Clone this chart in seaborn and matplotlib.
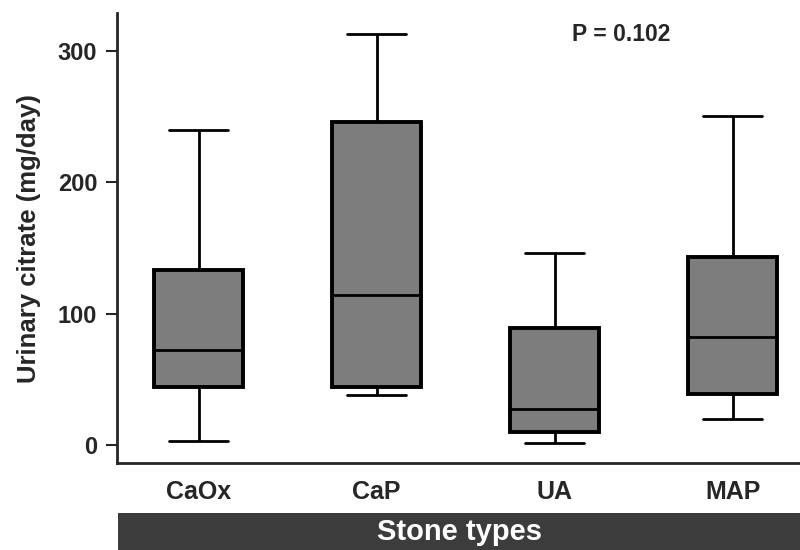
import matplotlib.pyplot as plt
import pandas as pd
import seaborn as sns
from matplotlib.patches import Rectangle

# five-number summaries (mg/day)
stones = ["CaOx", "CaP", "UA", "MAP"]
whisker_low = [3, 38, 1, 20]
q1 = [44, 44, 10, 39]
median = [72, 114, 27, 82]
q3 = [133, 246, 89, 143]
whisker_high = [240, 313, 146, 251]

rows = []
for i, s in enumerate(stones):
    for v in (whisker_low[i], q1[i], median[i], q3[i], whisker_high[i]):
        rows.append({"stone": s, "citrate": v})
df = pd.DataFrame(rows)

sns.set_style("ticks")
plt.rcParams["font.family"] = ["Liberation Sans", "DejaVu Sans"]
plt.rcParams["font.weight"] = "bold"

fig = plt.figure(figsize=(8, 5.5), dpi=100)
ax = fig.add_axes([0.146, 0.158, 0.87, 0.818])

sns.boxplot(
    data=df, x="stone", y="citrate", order=stones,
    whis=(0, 100), width=0.5, color="#7d7d7d", saturation=1,
    linecolor="black", linewidth=2,
    boxprops={"linewidth": 2.8},
    capprops={"linewidth": 2},
    whiskerprops={"linewidth": 2},
    medianprops={"linewidth": 2, "color": "black"},
    showfliers=False, ax=ax,
)
# narrower caps
for line in ax.lines:
    xd = line.get_xdata()
    if len(xd) == 2 and xd[0] != xd[1]:
        yd = line.get_ydata()
        if yd[0] == yd[1]:
            c = (xd[0] + xd[1]) / 2
            half = abs(xd[1] - xd[0]) / 2
            if half < 0.2:
                line.set_xdata([c - 0.165, c + 0.165])

ax.set_xlim(-0.46, 3.45)
ax.set_ylim(-14, 329)
ax.set_yticks([0, 100, 200, 300])
ax.tick_params(axis="y", labelsize=17, width=1.5, length=8, direction="out", pad=6)
ax.tick_params(axis="x", labelsize=18, length=0, pad=12)
for lab in ax.get_xticklabels() + ax.get_yticklabels():
    lab.set_fontweight("bold")
ax.set_xlabel("")
ax.set_ylabel("Urinary citrate (mg/day)", fontsize=18.5, fontweight="bold")
ax.yaxis.set_label_coords(-0.109, 0.5)
sns.despine(ax=ax, right=True, top=True)
ax.spines["left"].set_linewidth(2)
ax.spines["bottom"].set_linewidth(2)

ax.text(2.1, 313, "P = 0.102", fontsize=16.5, fontweight="bold", va="center")

# dark banner under the axis
fig.patches.append(Rectangle((0.1475, 0.0), 0.86, 0.067, transform=fig.transFigure,
                             facecolor="#3c3c3c", edgecolor="none"))
fig.text(0.575, 0.032, "Stone types", color="white", fontsize=21,
         ha="center", va="center", fontweight="bold")

fig.savefig("out.png", dpi=100)
